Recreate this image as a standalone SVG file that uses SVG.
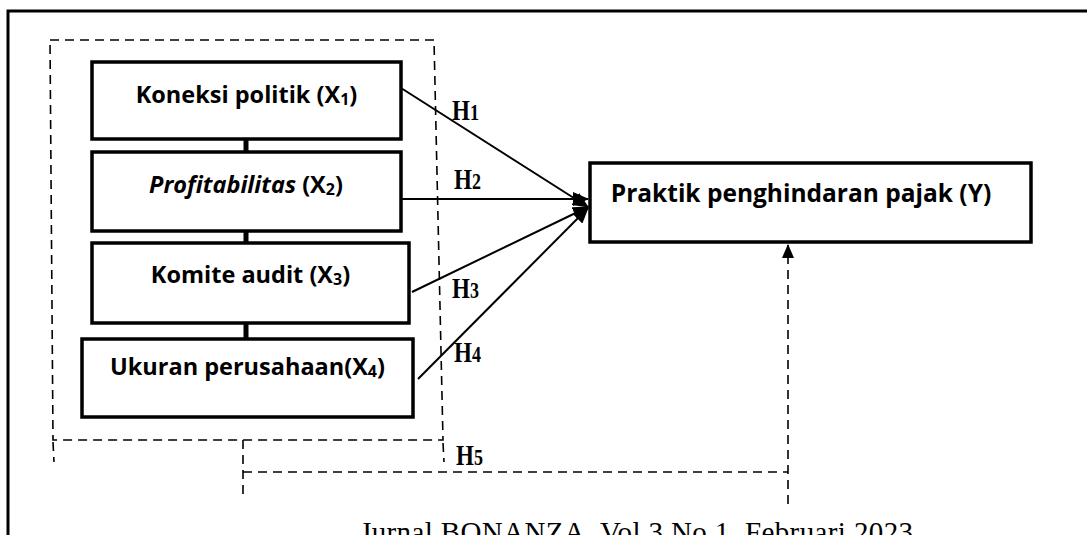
<svg xmlns="http://www.w3.org/2000/svg" width="1087" height="535" viewBox="0 0 1087 535">
<defs>
<style>
.box{fill:#fff;stroke:#000;stroke-width:3.5}
.lbl{font-family:"Open Sans","Liberation Sans",sans-serif;font-weight:bold;font-size:23.5px;fill:#000;text-anchor:middle}
.h{font-family:"Liberation Serif",serif;font-weight:bold;font-size:23px;fill:#000}
.con{stroke:#000;stroke-width:2;fill:none}
.dash{stroke:#000;stroke-width:1.6;fill:none;stroke-dasharray:9 6}
.tie{stroke:#000;stroke-width:5}
</style>
<marker id="arr" markerUnits="userSpaceOnUse" markerWidth="16" markerHeight="14" refX="15" refY="7" orient="auto">
<path d="M0,0 L16,7 L0,14 Z" fill="#000"/>
</marker>
<marker id="arrUp" markerUnits="userSpaceOnUse" markerWidth="14" markerHeight="12" refX="13" refY="6" orient="auto">
<path d="M0,0 L14,6 L0,12 Z" fill="#000"/>
</marker>
</defs>
<rect width="1087" height="535" fill="#fff"/>
<path d="M8,535 V11 H1087" fill="none" stroke="#000" stroke-width="3"/>

<g id="group-box">
<path class="dash" d="M50,40 L434,40 L443,440 L53,440 Z"/>
<path class="dash" d="M53,442 L54,462 M443,443 L444,462"/>
</g>

<g id="connectors">
<line class="tie" x1="246" y1="139" x2="246" y2="152"/>
<line class="tie" x1="246" y1="231" x2="246" y2="243"/>
<line class="tie" x1="246" y1="323" x2="246" y2="339"/>
<line class="con" x1="401" y1="88" x2="588" y2="207" marker-end="url(#arr)"/>
<line class="con" x1="401" y1="199" x2="588" y2="199" marker-end="url(#arr)"/>
<line class="con" x1="412" y1="292" x2="588" y2="207" marker-end="url(#arr)"/>
<line class="con" x1="418" y1="379" x2="588" y2="208" marker-end="url(#arr)"/>
<path class="dash" d="M243,440 V494 M243,472 H788"/>
<path class="dash" d="M788,504 V245" marker-end="url(#arrUp)"/>
</g>

<g id="x1">
<rect class="box" x="92" y="62" width="309" height="77"/>
<text class="lbl" x="246.5" y="103">Koneksi politik (X<tspan font-size="16px" dy="2">1</tspan><tspan dy="-2">)</tspan></text>
</g>
<g id="x2">
<rect class="box" x="92" y="152" width="309" height="79"/>
<text class="lbl" x="246" y="193"><tspan font-style="italic">Profitabilitas</tspan> (X<tspan font-size="16px" dy="2">2</tspan><tspan dy="-2">)</tspan></text>
</g>
<g id="x3">
<rect class="box" x="92" y="243" width="317" height="80"/>
<text class="lbl" x="250.5" y="283">Komite audit (X<tspan font-size="16px" dy="2">3</tspan><tspan dy="-2">)</tspan></text>
</g>
<g id="x4">
<rect class="box" x="82" y="339" width="331" height="78"/>
<text class="lbl" x="247.5" y="375">Ukuran perusahaan(X<tspan font-size="16px" dy="2">4</tspan><tspan dy="-2">)</tspan></text>
</g>
<g id="y">
<rect class="box" x="590" y="163" width="441" height="79"/>
<text class="lbl" x="801" y="202" style="font-size:24.5px">Praktik penghindaran pajak (Y)</text>
</g>

<g id="hlabels">
<text class="h" transform="translate(452,120) scale(1,1.25)">H<tspan font-size="18px">1</tspan></text>
<text class="h" transform="translate(454,189) scale(1,1.25)">H<tspan font-size="18px">2</tspan></text>
<text class="h" transform="translate(452,298) scale(1,1.25)">H<tspan font-size="18px">3</tspan></text>
<text class="h" transform="translate(454,362) scale(1,1.25)">H<tspan font-size="18px">4</tspan></text>
<text class="h" transform="translate(456,465) scale(1,1.25)">H<tspan font-size="18px">5</tspan></text>
</g>

<text x="360" y="542" font-family="Liberation Serif, serif" font-size="29px" fill="#000" textLength="553">Jurnal BONANZA, Vol 3 No 1, Februari 2023</text>
</svg>
